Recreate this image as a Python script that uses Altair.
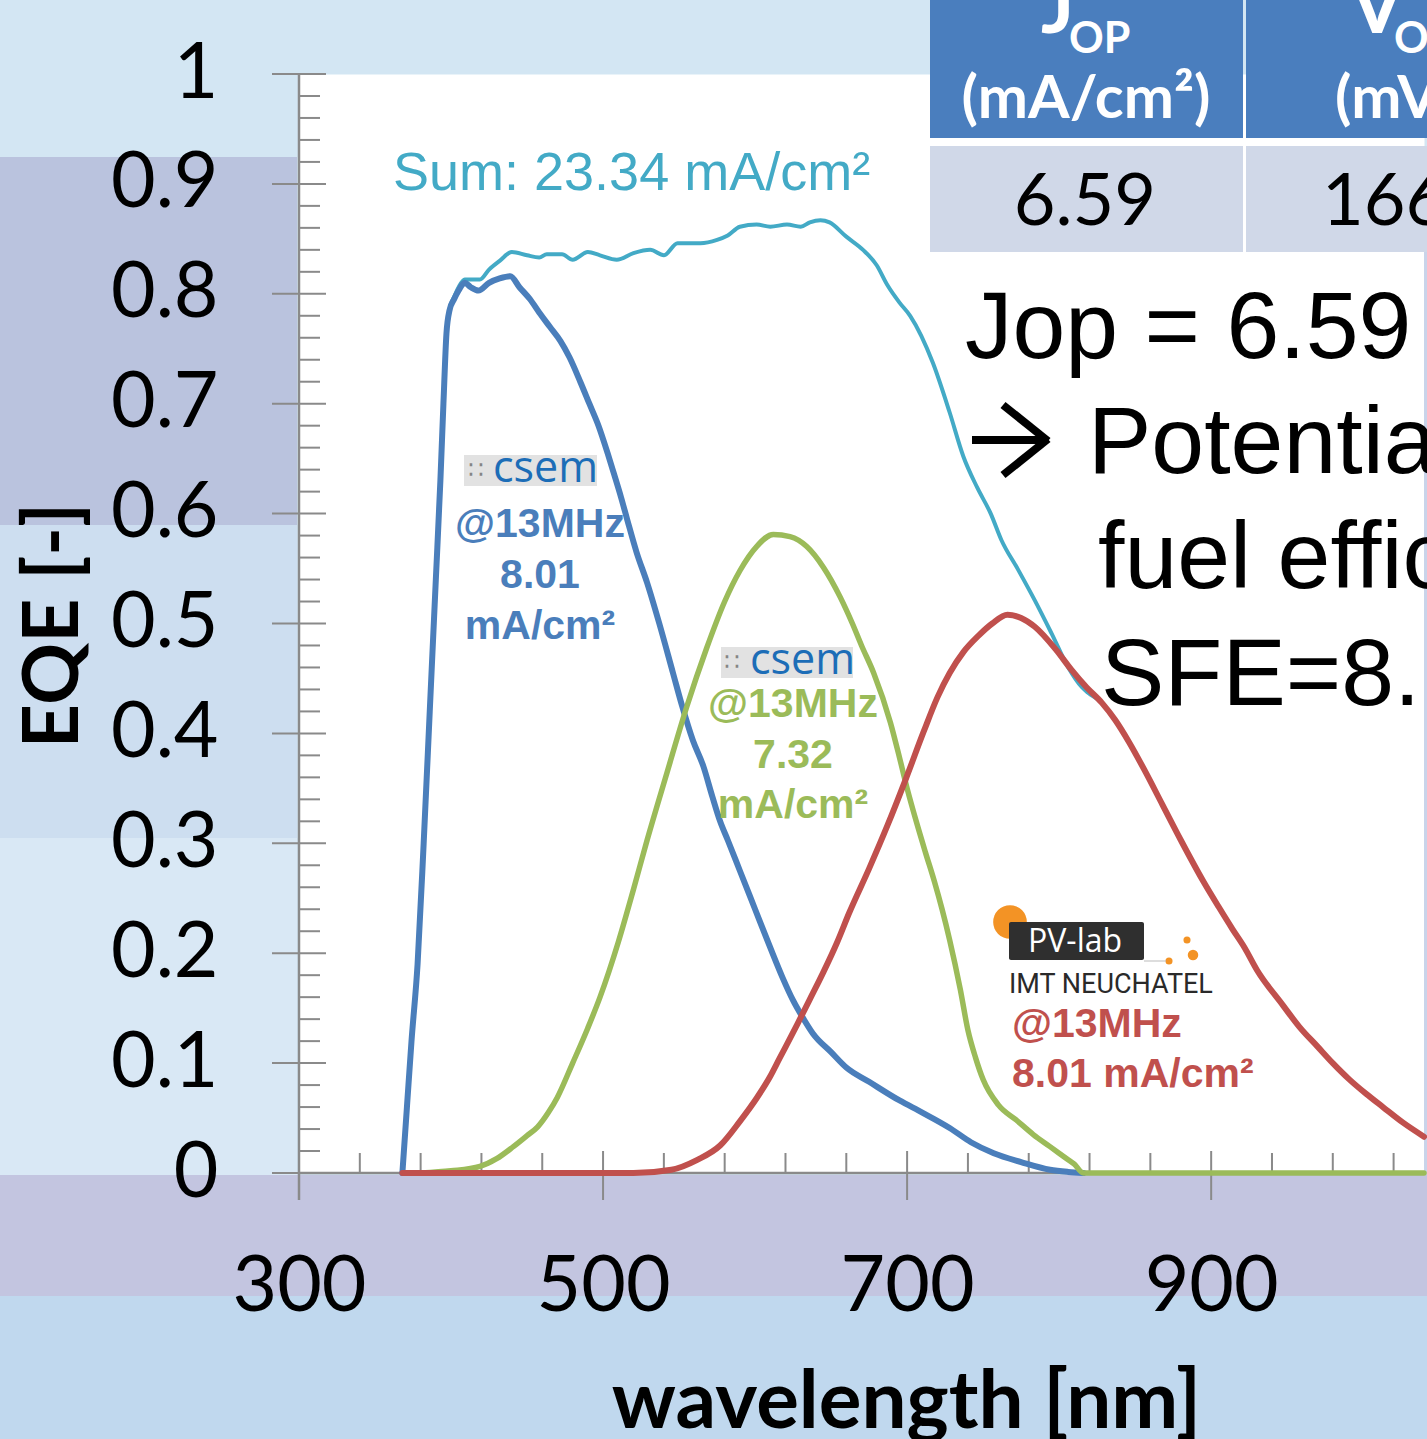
import altair as alt
import pandas as pd

# ---------------- data: EQE of the three sub-cells (wavelength in nm) ----------------
top_wl = [368, 371, 374, 378, 382, 386, 390, 393, 395, 397,
          399, 402, 405, 409, 413, 418, 425, 432, 439, 445,
          452, 458, 465, 472, 478, 485, 491, 497, 503, 507,
          512, 516, 522, 529, 537, 546, 552, 559, 566, 572,
          577, 582, 590, 600, 610, 618, 625, 632, 638, 650,
          660, 675, 695, 710, 728, 742, 757, 775, 794, 806, 816]
top_eqe = [0, 0.06, 0.12, 0.19, 0.30, 0.42, 0.54, 0.63, 0.70, 0.764,
           0.785, 0.795, 0.803, 0.81, 0.806, 0.803, 0.81, 0.814, 0.816, 0.806,
           0.795, 0.783, 0.77, 0.757, 0.742, 0.72, 0.70, 0.68, 0.655, 0.637,
           0.614, 0.594, 0.565, 0.537, 0.50, 0.455, 0.425, 0.394, 0.37, 0.342,
           0.32, 0.303, 0.275, 0.24, 0.205, 0.178, 0.157, 0.14, 0.127, 0.11,
           0.096, 0.083, 0.066, 0.055, 0.041, 0.028, 0.018, 0.01, 0.003, 0.001, 0]

mid_wl = [380, 400, 419, 430, 441, 450, 457, 464, 470, 480,
          490, 498, 510, 520, 529, 542, 555, 568, 580, 590,
          601, 612, 623, 634, 645, 656, 664, 670, 678, 689,
          695, 700, 706, 712, 718, 723, 728, 735, 740, 745,
          750, 760, 772, 783, 794, 805, 810, 816, 1040]
mid_eqe = [0, 0.002, 0.006, 0.013, 0.024, 0.034, 0.042, 0.055, 0.069, 0.100,
           0.132, 0.160, 0.21, 0.258, 0.303, 0.364, 0.424, 0.477, 0.52, 0.548,
           0.57, 0.581, 0.579, 0.57, 0.551, 0.524, 0.50, 0.48, 0.455, 0.41,
           0.378, 0.35, 0.32, 0.292, 0.265, 0.24, 0.212, 0.167, 0.13, 0.105,
           0.085, 0.062, 0.048, 0.035, 0.024, 0.013, 0.008, 0, 0]

bot_wl = [368, 520, 545, 562, 577, 590, 601, 610, 616, 628,
          636, 645, 654, 662, 675, 687, 699, 711, 720, 728,
          737, 747, 756, 766, 775, 784, 798, 808, 818, 828,
          837, 846, 856, 868, 880, 895, 905, 914, 922, 930,
          947, 958, 970, 980, 991, 1002, 1013, 1026, 1040]
bot_eqe = [0, 0, 0.003, 0.012, 0.025, 0.047, 0.068, 0.088, 0.104, 0.136,
           0.158, 0.183, 0.21, 0.237, 0.277, 0.316, 0.358, 0.402, 0.433, 0.455,
           0.474, 0.489, 0.500, 0.508, 0.505, 0.497, 0.476, 0.458, 0.442, 0.428,
           0.412, 0.392, 0.367, 0.335, 0.303, 0.265, 0.242, 0.222, 0.205, 0.185,
           0.153, 0.133, 0.115, 0.10, 0.085, 0.072, 0.06, 0.046, 0.033]

sum_wl = [368, 371, 374, 378, 382, 386, 390, 393, 395, 397,
          399, 402, 405, 409, 419, 425, 432, 440, 450, 458,
          463, 473, 480, 490, 498, 509, 520, 531, 540, 549,
          564, 575, 582, 590, 601, 610, 621, 630, 636, 643,
          649, 660, 671, 680, 687, 695, 702, 717, 728, 737,
          746, 755, 762, 773, 784, 795, 806, 815, 819, 828,
          837, 846, 856, 868, 880, 895, 905, 914, 922, 930,
          947, 958, 970, 980, 991, 1002, 1013, 1026, 1040]
sum_eqe = [0, 0.06, 0.12, 0.19, 0.30, 0.42, 0.54, 0.63, 0.70, 0.765,
           0.786, 0.797, 0.806, 0.813, 0.813, 0.822, 0.83, 0.838, 0.835, 0.833,
           0.836, 0.836, 0.831, 0.838, 0.835, 0.831, 0.837, 0.84, 0.835, 0.846,
           0.846, 0.849, 0.853, 0.861, 0.863, 0.861, 0.863, 0.861, 0.865, 0.867,
           0.865, 0.852, 0.84, 0.826, 0.808, 0.792, 0.78, 0.737, 0.692, 0.652,
           0.624, 0.60, 0.576, 0.549, 0.521, 0.491, 0.46, 0.442, 0.437, 0.428,
           0.412, 0.392, 0.367, 0.335, 0.303, 0.265, 0.242, 0.222, 0.205, 0.185,
           0.153, 0.133, 0.115, 0.10, 0.085, 0.072, 0.06, 0.046, 0.033]

# current densities (mA/cm2) of the cells and the operating point
cell_jsc = [8.01, 7.32, 8.01]
jsc_sum = 23.34
j_op = 6.59
v_op = 1660

# axis ticks and labels
x_major = [300, 500, 700, 900]
x_minor = [340, 380, 420, 460, 540, 580, 620, 660, 740, 780, 820, 860, 940, 980, 1020]
y_major = [0, 0.1, 0.2, 0.3, 0.4, 0.5, 0.6, 0.7, 0.8, 0.9, 1]
y_minor = [0.02, 0.04, 0.06, 0.08, 0.12, 0.14, 0.16, 0.18, 0.22, 0.24, 0.26, 0.28,
           0.32, 0.34, 0.36, 0.38, 0.42, 0.44, 0.46, 0.48, 0.52, 0.54, 0.56, 0.58,
           0.62, 0.64, 0.66, 0.68, 0.72, 0.74, 0.76, 0.78, 0.82, 0.84, 0.86, 0.88,
           0.92, 0.94, 0.96, 0.98]

# ---------------- layout ----------------
W, H = 1125, 1099
PAD_L, PAD_T = 299, 74
PAGE_W, PAGE_H = 1427, 1439
X_DOM = [300, 1040]
PX_PER_NM = W / (X_DOM[1] - X_DOM[0])

BLUE = "#4a7ebb"
GREEN = "#9bbb59"
RED = "#c0504d"
CYAN = "#43aac6"
AXIS_GREY = "#8a8a8a"
SLIDE_FONT = "Lato"
ARIAL = "Liberation Sans"


def wx(px):
    """page pixel column -> wavelength"""
    return X_DOM[0] + (px - PAD_L) / PX_PER_NM


def ey(py):
    """page pixel row -> EQE"""
    return (PAD_T + H - py) / H


x_scale = alt.Scale(domain=X_DOM, nice=False, zero=False)
y_scale = alt.Scale(domain=[0, 1], nice=False, zero=False)

x_axis = alt.Axis(values=x_major, format="d", ticks=False, tickSize=0, domain=False,
                  grid=False, labelFont=SLIDE_FONT, labelFontSize=77, labelColor="black",
                  labelPadding=76, labelFlush=False, labelOverlap=False,
                  title="wavelength [nm]", titleFont=SLIDE_FONT, titleFontSize=80,
                  titleFontWeight="bold", titleColor="black", titleX=607, titleY=254,
                  titleBaseline="alphabetic", titleAlign="center", zindex=1)
y_axis = alt.Axis(values=y_major, format=".1~f", ticks=False, tickSize=0, domain=False,
                  grid=False, labelFont=SLIDE_FONT, labelFontSize=77, labelColor="black",
                  labelPadding=81, labelFlush=False, labelOverlap=False,
                  title="EQE [-]", titleFont=SLIDE_FONT, titleFontSize=77,
                  titleFontWeight="bold", titleColor="black", titleX=-222, titleY=551,
                  titleBaseline="alphabetic", titleAlign="center", titleAngle=270, zindex=1)


def X(field="x"):
    return alt.X(f"{field}:Q", scale=x_scale, axis=x_axis)


def Y(field="y"):
    return alt.Y(f"{field}:Q", scale=y_scale, axis=y_axis)


dummy = pd.DataFrame({"d": [0]})


def rects(items, **style):
    """items: (px0, py0, px1, py1, colour) in page pixels"""
    df = pd.DataFrame([{"x": wx(a), "x2": wx(c), "y": ey(b), "y2": ey(d), "c": col}
                       for a, b, c, d, col in items])
    return alt.Chart(df).mark_rect(**style).encode(
        x=X(), x2="x2:Q", y=Y(), y2="y2:Q", color=alt.Color("c:N", scale=None))


def segments(items, **style):
    """items: (px0, py0, px1, py1) in page pixels"""
    df = pd.DataFrame([{"x": wx(a), "x2": wx(c), "y": ey(b), "y2": ey(d)}
                       for a, b, c, d in items])
    return alt.Chart(df).mark_rule(**style).encode(x=X(), x2="x2:Q", y=Y(), y2="y2:Q")


def texts(items, **style):
    """items: (px, py, text) in page pixels"""
    df = pd.DataFrame([{"x": wx(px), "y": ey(py), "t": t} for px, py, t in items])
    return alt.Chart(df).mark_text(**style).encode(x=X(), y=Y(), text="t:N")


# ---------------- slide background bands ----------------
bands = rects([
    (-20, 157, 297, 525, "#bac3de"),
    (-20, 525, 297, 838, "#cddef0"),
    (-20, 838, 297, 1177, "#d9e8f5"),
    (-20, 1175, 1460, 1296, "#c3c5e0"),
    (-20, 1296, 1460, 1460, "#c0d8ee"),
    (1424, 252, 1460, 1175, "#c9d4ea"),
])

# ---------------- axis lines and ticks ----------------
y_line = alt.Chart(dummy).mark_rule(color=AXIS_GREY, strokeWidth=2.5).encode(
    x=alt.value(0), y=alt.value(0), y2=alt.value(H + 27))
x_line = alt.Chart(dummy).mark_rule(color=AXIS_GREY, strokeWidth=2.5).encode(
    x=alt.value(0), x2=alt.value(W), y=alt.value(H))
y_minor_ticks = alt.Chart(pd.DataFrame({"y": y_minor})).mark_rule(
    color=AXIS_GREY, strokeWidth=2).encode(y=Y(), x=alt.value(0), x2=alt.value(21))
y_major_ticks = alt.Chart(pd.DataFrame({"y": y_major})).mark_rule(
    color=AXIS_GREY, strokeWidth=2).encode(y=Y(), x=alt.value(-27), x2=alt.value(27))
x_minor_ticks = alt.Chart(pd.DataFrame({"x": x_minor})).mark_rule(
    color=AXIS_GREY, strokeWidth=2).encode(x=X(), y=alt.value(H - 20), y2=alt.value(H))
x_major_ticks = alt.Chart(pd.DataFrame({"x": x_major})).mark_rule(
    color=AXIS_GREY, strokeWidth=2).encode(x=X(), y=alt.value(H - 22), y2=alt.value(H + 27))


# ---------------- EQE curves ----------------
def curve(wl, eqe, colour, width):
    df = pd.DataFrame({"x": wl, "y": eqe})
    return alt.Chart(df).mark_line(color=colour, strokeWidth=width, interpolate="monotone",
                                   strokeJoin="round", strokeCap="round").encode(x=X(), y=Y())


sum_line = curve(sum_wl, sum_eqe, CYAN, 4)
top_line = curve(top_wl, top_eqe, BLUE, 6)
mid_line = curve(mid_wl, mid_eqe, GREEN, 5.5)
bot_line = curve(bot_wl, bot_eqe, RED, 6)

# ---------------- annotations inside the plot ----------------
sum_label = texts([(393, 190, f"Sum: {jsc_sum:.2f} mA/cm²")],
                  font=ARIAL, fontSize=54, color=CYAN, align="left", baseline="alphabetic")

csem_boxes = rects([(464, 455, 597, 486, "#e2e2e2"), (721, 647, 853, 678, "#e2e2e2")])
csem_dots = texts([(476, 471, "∷"), (732, 663, "∷")], font="DejaVu Sans", fontSize=24,
                  color="#858585", align="center", baseline="middle")
csem_names = texts([(493, 482, "csem"), (750, 674, "csem")], font="Open Sans", fontSize=43,
                   color="#1c6db7", align="left", baseline="alphabetic")

label_style = dict(font=ARIAL, fontSize=41, fontWeight="bold", baseline="alphabetic")
top_label = texts([(540, 537, "@13MHz"), (540, 588, f"{cell_jsc[0]:.2f}"), (540, 639, "mA/cm²")],
                  color=BLUE, align="center", **label_style)
mid_label = texts([(793, 717, "@13MHz"), (793, 768, f"{cell_jsc[1]:.2f}"), (793, 818, "mA/cm²")],
                  color=GREEN, align="center", **label_style)
bot_label = texts([(1012, 1037, "@13MHz"), (1012, 1087, f"{cell_jsc[2]:.2f} mA/cm²")],
                  color=RED, align="left", **label_style)

# PV-lab logo
pv_big_dot = alt.Chart(pd.DataFrame({"x": [wx(1010)], "y": [ey(922)]})).mark_circle(
    color="#f39325", size=1134, opacity=1).encode(x=X(), y=Y())
pv_box = rects([(1009, 922, 1144, 960, "#2f2f2f")], cornerRadius=2)
pv_small_dots = alt.Chart(pd.DataFrame({"x": [wx(1187), wx(1193), wx(1169)],
                                        "y": [ey(940), ey(955), ey(961)],
                                        "s": [50, 110, 50]})).mark_circle(
    color="#f39325", opacity=1).encode(x=X(), y=Y(), size=alt.Size("s:Q", scale=None))
pv_rule = segments([(1144, 961, 1166, 961)], color="#bbbbbb", strokeWidth=1)
pv_name = texts([(1028, 952, "PV-lab")], font="Open Sans", fontSize=32, color="white",
                align="left", baseline="alphabetic")
pv_inst = texts([(1009, 993, "IMT NEUCHATEL")], font="Roboto", fontSize=27,
                color="#2a2a2a", align="left", baseline="alphabetic")

# ---------------- table and text on the right ----------------
table_cells = rects([
    (930, -20, 1243, 138, "#4a7ebe"),
    (1246, -20, 1460, 138, "#4a7ebe"),
    (930, 146, 1243, 252, "#d0d8e8"),
    (1246, 146, 1460, 252, "#d0d8e8"),
])
head_big = texts([(1041, 33, "J"), (1350, 33, "V")], font=SLIDE_FONT, fontSize=78,
                 fontWeight="bold", color="white", align="left", baseline="alphabetic")
head_sub = texts([(1069, 53, "OP"), (1394, 53, "OP")], font=SLIDE_FONT, fontSize=43,
                 fontWeight="bold", color="white", align="left", baseline="alphabetic")
head_unit = texts([(1086, 118, "(mA/cm²)")], font=SLIDE_FONT, fontSize=60,
                  fontWeight="bold", color="white", align="center", baseline="alphabetic")
head_unit2 = texts([(1335, 118, "(mV)")], font=SLIDE_FONT, fontSize=60,
                   fontWeight="bold", color="white", align="left", baseline="alphabetic")
row_vals = texts([(1085, 225, f"{j_op:.2f}")], font=SLIDE_FONT, fontSize=72,
                 color="black", align="center", baseline="alphabetic")
row_vals2 = texts([(1322, 225, f"{v_op}")], font=SLIDE_FONT, fontSize=72,
                  color="black", align="left", baseline="alphabetic")

note_style = dict(font=ARIAL, fontSize=95, color="black", align="left", baseline="alphabetic")
note = texts([
    (965, 358, f"Jop = {j_op:.2f} mA/cm²"),
    (1088, 473, "Potential solar"),
    (1098, 588, "fuel efficiency"),
    (1101, 705, "SFE=8.1%"),
], **note_style)
# arrow in front of "Potential": shaft and open head
arrow = segments([(972, 440, 1046, 440), (1003, 405, 1048, 441), (1003, 475, 1048, 439)],
                 color="black", strokeWidth=8, strokeCap="butt")

chart = alt.layer(
    bands,
    x_minor_ticks, x_major_ticks, y_minor_ticks, y_major_ticks, y_line, x_line,
    sum_line, top_line, mid_line, bot_line,
    sum_label, csem_boxes, csem_dots, csem_names, top_label, mid_label, bot_label,
    pv_big_dot, pv_box, pv_small_dots, pv_rule, pv_name, pv_inst,
    table_cells, head_big, head_sub, head_unit, head_unit2, row_vals, row_vals2,
    note, arrow,
).properties(
    width=W, height=H,
    padding={"left": PAD_L, "top": PAD_T, "right": PAGE_W - PAD_L - W, "bottom": PAGE_H - PAD_T - H},
    autosize=alt.AutoSizeParams(type="none"),
).configure(background="#d3e6f3").configure_view(fill="white", stroke="transparent")

chart.save("out.html", embed_options={"renderer": "svg", "actions": False})
